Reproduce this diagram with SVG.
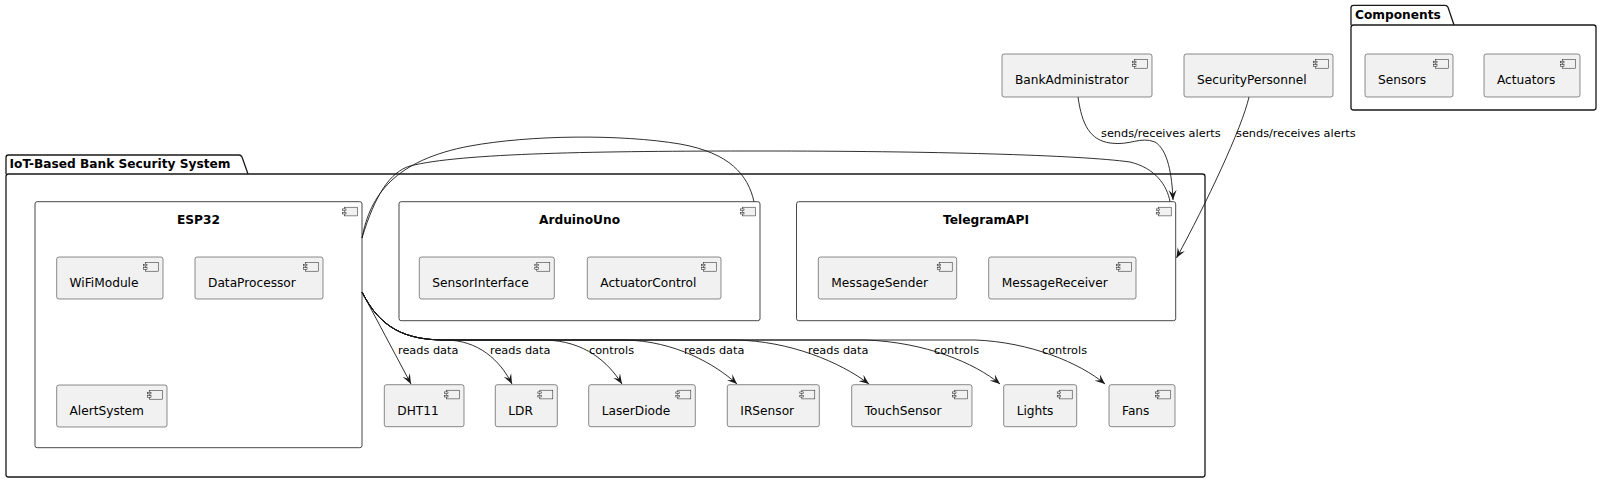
<svg xmlns="http://www.w3.org/2000/svg" width="1600" height="482" viewBox="0 0 1600 482">
<style>
text{font-family:"DejaVu Sans","Liberation Sans",sans-serif;fill:#000}
.pkg{fill:none;stroke:#181818;stroke-width:1.3}
.pt{font-weight:bold;font-size:12.2px}
.cont{fill:#FFFFFF;stroke:#181818;stroke-width:0.8}
.ct{font-weight:bold;font-size:12.2px;text-anchor:middle}
.box{fill:#F1F1F1;stroke:#181818;stroke-width:0.5}
.bt{font-size:12.2px}
.ico{fill:#F1F1F1;stroke:#181818;stroke-width:0.5}
.edge{fill:none;stroke:#181818;stroke-width:0.9}
.lbl{font-size:11.3px}
</style>
<defs>
<marker id="ah" viewBox="0 0 10 8" refX="10" refY="4" markerWidth="10" markerHeight="8.5" markerUnits="userSpaceOnUse" orient="auto">
<path d="M0,0 L10,4 L0,8 L4,4 Z" fill="#181818"/>
</marker>
<g id="icon">
<rect x="-17.5" y="5.5" width="13" height="8.7" class="ico"/>
<rect x="-19.5" y="7.2" width="3.5" height="1.7" class="ico"/>
<rect x="-19.5" y="10.6" width="3.5" height="1.7" class="ico"/>
</g>
</defs>

<g id="pkg-iot">
<path class="pkg" d="M6,174 L6,157.5 Q6,155 8.5,155 L239,155 Q241,155 242,157 L248,174"/>
<rect class="pkg" x="6" y="174" width="1199" height="303" rx="2.5"/>
<text class="pt" x="9.5" y="168">IoT-Based Bank Security System</text>
</g>

<g id="pkg-components">
<path class="pkg" d="M1351,25 L1351,7.8 Q1351,5.3 1353.5,5.3 L1445,5.3 Q1447,5.3 1448,7.3 L1454,25"/>
<rect class="pkg" x="1351" y="25" width="245" height="85" rx="2.5"/>
<text class="pt" x="1355" y="18.5">Components</text>
</g>

<g id="ESP32">
<rect class="cont" x="35" y="201.7" width="327" height="246" rx="2.2"/>
<use href="#icon" x="362" y="201.7"/>
<text class="ct" x="198.5" y="224">ESP32</text>
</g>
<g id="WiFiModule">
<rect class="box" x="56.7" y="257" width="106.3" height="42" rx="2.2"/>
<use href="#icon" x="163" y="257"/>
<text class="bt" x="69.5" y="287">WiFiModule</text>
</g>
<g id="DataProcessor">
<rect class="box" x="195" y="257" width="128" height="42" rx="2.2"/>
<use href="#icon" x="323" y="257"/>
<text class="bt" x="208" y="287">DataProcessor</text>
</g>
<g id="AlertSystem">
<rect class="box" x="56.7" y="385" width="110.3" height="42" rx="2.2"/>
<use href="#icon" x="167" y="385"/>
<text class="bt" x="69.5" y="415">AlertSystem</text>
</g>

<g id="ArduinoUno">
<rect class="cont" x="399" y="201.7" width="361" height="119" rx="2.2"/>
<use href="#icon" x="760" y="201.7"/>
<text class="ct" x="579.5" y="224">ArduinoUno</text>
</g>
<g id="SensorInterface">
<rect class="box" x="419.3" y="257" width="135" height="42" rx="2.2"/>
<use href="#icon" x="554.3" y="257"/>
<text class="bt" x="432.3" y="287">SensorInterface</text>
</g>
<g id="ActuatorControl">
<rect class="box" x="587.3" y="257" width="133.7" height="42" rx="2.2"/>
<use href="#icon" x="721" y="257"/>
<text class="bt" x="600.3" y="287">ActuatorControl</text>
</g>

<g id="TelegramAPI">
<rect class="cont" x="796.5" y="201.7" width="379.2" height="119" rx="2.2"/>
<use href="#icon" x="1175.7" y="201.7"/>
<text class="ct" x="986" y="224">TelegramAPI</text>
</g>
<g id="MessageSender">
<rect class="box" x="818.3" y="257" width="138.4" height="42" rx="2.2"/>
<use href="#icon" x="956.7" y="257"/>
<text class="bt" x="831.3" y="287">MessageSender</text>
</g>
<g id="MessageReceiver">
<rect class="box" x="988.7" y="257" width="147.3" height="42" rx="2.2"/>
<use href="#icon" x="1136" y="257"/>
<text class="bt" x="1001.7" y="287">MessageReceiver</text>
</g>

<g id="DHT11">
<rect class="box" x="384.3" y="384.7" width="79.7" height="42" rx="2.2"/>
<use href="#icon" x="464" y="384.7"/>
<text class="bt" x="397.3" y="414.7">DHT11</text>
</g>
<g id="LDR">
<rect class="box" x="495.3" y="384.7" width="62" height="42" rx="2.2"/>
<use href="#icon" x="557.3" y="384.7"/>
<text class="bt" x="508.3" y="414.7">LDR</text>
</g>
<g id="LaserDiode">
<rect class="box" x="588.7" y="384.7" width="106.6" height="42" rx="2.2"/>
<use href="#icon" x="695.3" y="384.7"/>
<text class="bt" x="601.7" y="414.7">LaserDiode</text>
</g>
<g id="IRSensor">
<rect class="box" x="727.3" y="384.7" width="92" height="42" rx="2.2"/>
<use href="#icon" x="819.3" y="384.7"/>
<text class="bt" x="740.3" y="414.7">IRSensor</text>
</g>
<g id="TouchSensor">
<rect class="box" x="851.7" y="384.7" width="120.3" height="42" rx="2.2"/>
<use href="#icon" x="972" y="384.7"/>
<text class="bt" x="864.7" y="414.7">TouchSensor</text>
</g>
<g id="Lights">
<rect class="box" x="1003.7" y="384.7" width="73" height="42" rx="2.2"/>
<use href="#icon" x="1076.7" y="384.7"/>
<text class="bt" x="1016.7" y="414.7">Lights</text>
</g>
<g id="Fans">
<rect class="box" x="1109" y="384.7" width="66" height="42" rx="2.2"/>
<use href="#icon" x="1175" y="384.7"/>
<text class="bt" x="1122" y="414.7">Fans</text>
</g>

<g id="BankAdministrator">
<rect class="box" x="1002" y="54" width="150" height="43" rx="2.2"/>
<use href="#icon" x="1152" y="54"/>
<text class="bt" x="1015" y="84">BankAdministrator</text>
</g>
<g id="SecurityPersonnel">
<rect class="box" x="1184" y="54" width="149" height="43" rx="2.2"/>
<use href="#icon" x="1333" y="54"/>
<text class="bt" x="1197" y="84">SecurityPersonnel</text>
</g>
<g id="Sensors">
<rect class="box" x="1365" y="54" width="88" height="43" rx="2.2"/>
<use href="#icon" x="1453" y="54"/>
<text class="bt" x="1378" y="84">Sensors</text>
</g>
<g id="Actuators">
<rect class="box" x="1484" y="54" width="96" height="43" rx="2.2"/>
<use href="#icon" x="1580" y="54"/>
<text class="bt" x="1497" y="84">Actuators</text>
</g>

<g id="connectors">
<path class="edge" d="M362,238 C370,195 395,160 470,146 C530,135 620,134 680,144 C730,153 748,175 754,201.7"/>
<path class="edge" d="M362,238 C375,195 390,172 410,166 C460,153 600,151 760,151 C930,151 1080,155 1130,162 C1155,168 1167,185 1170,201.7"/>
<path class="edge" marker-end="url(#ah)" d="M1078,97 C1082,125 1090,140 1110,143 C1130,146 1140,136 1155,142 C1168,150 1172,175 1173,200"/>
<text class="lbl" x="1101" y="137">sends/receives alerts</text>
<path class="edge" marker-end="url(#ah)" d="M1249,97 C1242,128 1206,204 1176.5,258"/>
<text class="lbl" x="1236" y="137">sends/receives alerts</text>

<path class="edge" marker-end="url(#ah)" d="M362,292 L411,384"/>
<text class="lbl" x="398" y="354">reads data</text>
<path class="edge" marker-end="url(#ah)" d="M362,292 C380,328 405,340 445,340 C478,340 500,360 512,384"/>
<text class="lbl" x="490" y="354">reads data</text>
<path class="edge" marker-end="url(#ah)" d="M362,292 C380,328 405,340 445,340 L545,340 C585,341 608,362 622,384"/>
<text class="lbl" x="589" y="354">controls</text>
<path class="edge" marker-end="url(#ah)" d="M362,292 C380,328 405,340 445,340 L625,340 C675,341 715,364 737,384"/>
<text class="lbl" x="684" y="354">reads data</text>
<path class="edge" marker-end="url(#ah)" d="M362,292 C380,328 405,340 445,340 L735,340 C790,341 840,362 869,384"/>
<text class="lbl" x="808" y="354">reads data</text>
<path class="edge" marker-end="url(#ah)" d="M362,292 C380,328 405,340 445,340 L865,340 C925,342 975,363 1000,384"/>
<text class="lbl" x="934" y="354">controls</text>
<path class="edge" marker-end="url(#ah)" d="M362,292 C380,328 405,340 445,340 L975,340 C1030,342 1080,363 1105,384"/>
<text class="lbl" x="1042" y="354">controls</text>
</g>
</svg>
